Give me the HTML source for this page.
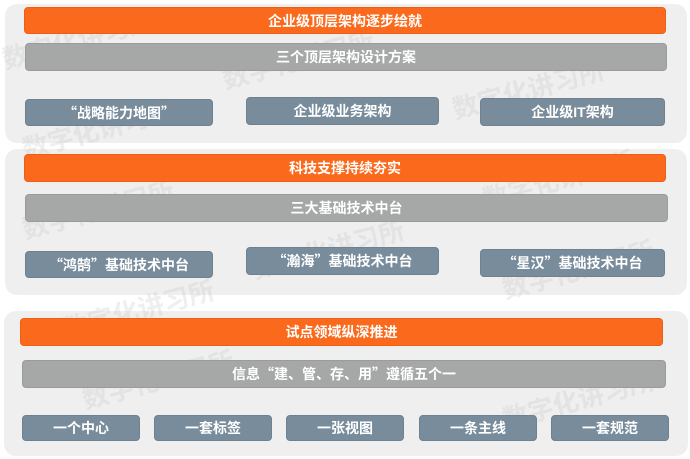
<!DOCTYPE html>
<html><head><meta charset="utf-8"><style>
body{margin:0;width:690px;height:459px;background:#fff;position:relative;overflow:hidden;font-family:"Liberation Sans","Noto Sans CJK SC",sans-serif;}
.p{position:absolute;background:#efefef;border-radius:12px;}
.b{position:absolute;display:flex;align-items:center;justify-content:center;color:#fff;font-weight:bold;font-size:14px;border-radius:4px;box-sizing:border-box;}
.q{font-family:"Noto Sans CJK SC",sans-serif;}
.o{background:#fb6a1c;border:1px solid #ee5f12;}
.g{background:#a6a8a7;border:1px solid #9a9c9b;}
.s{background:#788c9c;border:1px solid #6d8191;}
.w{position:absolute;color:rgba(190,190,190,0.25);font-size:26px;font-weight:bold;transform:rotate(-15deg);white-space:nowrap;}
</style></head><body>
<div class="p" style="left:5px;top:4px;width:682px;height:139px;"></div>
<div class="p" style="left:5px;top:149px;width:682px;height:146px;"></div>
<div class="p" style="left:4px;top:311px;width:684px;height:145px;"></div>

<div class="w" style="left:0px;top:20px;">数字化讲习所</div>
<div class="w" style="left:220px;top:40px;">数字化讲习所</div>
<div class="w" style="left:450px;top:70px;">数字化讲习所</div>
<div class="w" style="left:20px;top:110px;">数字化讲习所</div>
<div class="w" style="left:480px;top:160px;">数字化讲习所</div>
<div class="w" style="left:20px;top:190px;">数字化讲习所</div>
<div class="w" style="left:250px;top:230px;">数字化讲习所</div>
<div class="w" style="left:500px;top:250px;">数字化讲习所</div>
<div class="w" style="left:60px;top:290px;">数字化讲习所</div>
<div class="w" style="left:80px;top:360px;">数字化讲习所</div>
<div class="w" style="left:500px;top:380px;">数字化讲习所</div>

<div class="b o" style="left:24px;top:7px;width:642px;height:27px;">企业级顶层架构逐步绘就</div>
<div class="b g" style="left:25px;top:43px;width:642px;height:28px;">三个顶层架构设计方案</div>
<div class="b s q" style="left:25px;top:99px;width:188px;height:27px;">“战略能力地图”</div>
<div class="b s" style="left:246px;top:97px;width:193px;height:28px;">企业级业务架构</div>
<div class="b s" style="left:480px;top:98px;width:185px;height:28px;">企业级IT架构</div>

<div class="b o" style="left:24px;top:154px;width:642px;height:28px;">科技支撑持续夯实</div>
<div class="b g" style="left:25px;top:194px;width:643px;height:28px;">三大基础技术中台</div>
<div class="b s q" style="left:25px;top:251px;width:188px;height:27px;">“鸿鹄”基础技术中台</div>
<div class="b s q" style="left:246px;top:247px;width:193px;height:28px;">“瀚海”基础技术中台</div>
<div class="b s q" style="left:480px;top:249px;width:185px;height:28px;">“星汉”基础技术中台</div>

<div class="b o" style="left:20px;top:318px;width:643px;height:28px;">试点领域纵深推进</div>
<div class="b g q" style="left:22px;top:360px;width:644px;height:28px;">信息“建、管、存、用”遵循五个一</div>
<div class="b s" style="left:22px;top:415px;width:118px;height:26px;">一个中心</div>
<div class="b s" style="left:154px;top:415px;width:118px;height:26px;">一套标签</div>
<div class="b s" style="left:286px;top:415px;width:118px;height:26px;">一张视图</div>
<div class="b s" style="left:419px;top:415px;width:118px;height:26px;">一条主线</div>
<div class="b s" style="left:551px;top:415px;width:118px;height:26px;">一套规范</div>
</body></html>
